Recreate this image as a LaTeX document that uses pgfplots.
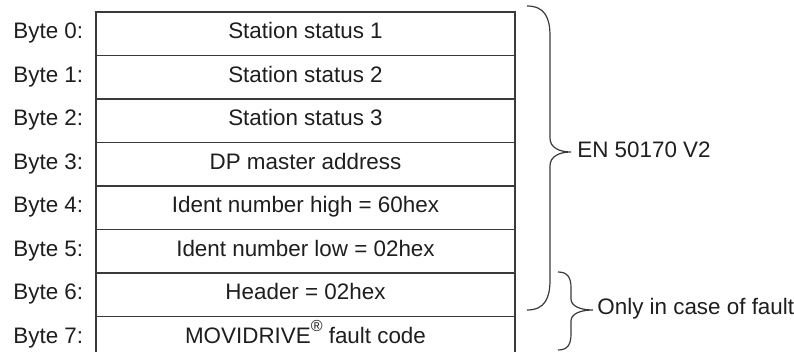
\documentclass[border=0pt]{standalone}
\usepackage{pgfplots}
\pgfplotsset{compat=1.18}
\usepackage{fontspec}
\setmainfont{Liberation Sans}
\definecolor{ink}{HTML}{1E1E1E}
\definecolor{rule}{HTML}{3A3A3A}
\tikzset{lbl/.style={anchor=base west, text=ink, font=\fontsize{11.2}{13}\selectfont, inner sep=0pt},
         cell/.style={anchor=base, text=ink, font=\fontsize{11.2}{13}\selectfont, inner sep=0pt}}
\begin{document}
\begin{tikzpicture}
\begin{axis}[
  scale only axis, width=397pt, height=176pt,
  xmin=0, xmax=794, ymin=0, ymax=352, y dir=reverse,
  axis lines=none, clip=true,
]
% table outline (bottom edge lies below the picture)
\addplot[rule, line width=0.7pt, forget plot] coordinates {(96,360) (96,12) (515,12) (515,360)};
% row separators
\addplot[rule, line width=0.7pt, forget plot, unbounded coords=jump] coordinates {
 (96,55.5) (515,55.5) (96,nan)
 (96,99) (515,99) (96,nan)
 (96,142.5) (515,142.5) (96,nan)
 (96,186) (515,186) (96,nan)
 (96,229.5) (515,229.5) (96,nan)
 (96,273) (515,273) (96,nan)
 (96,316.5) (515,316.5)
};
% byte labels (baselines)
\node[lbl] at (axis cs:13,39) {Byte 0:};
\node[lbl] at (axis cs:13,82.5) {Byte 1:};
\node[lbl] at (axis cs:13,126) {Byte 2:};
\node[lbl] at (axis cs:13,169.5) {Byte 3:};
\node[lbl] at (axis cs:13,213) {Byte 4:};
\node[lbl] at (axis cs:13,256.5) {Byte 5:};
\node[lbl] at (axis cs:13,300) {Byte 6:};
\node[lbl] at (axis cs:13,343.5) {Byte 7:};
% contents
\node[cell] at (axis cs:305.5,39) {Station status 1};
\node[cell] at (axis cs:305.5,82.5) {Station status 2};
\node[cell] at (axis cs:305.5,126) {Station status 3};
\node[cell] at (axis cs:305.5,169.5) {DP master address};
\node[cell] at (axis cs:305.5,213) {Ident number high = 60hex};
\node[cell] at (axis cs:305.5,256.5) {Ident number low = 02hex};
\node[cell] at (axis cs:305.5,300) {Header = 02hex};
\node[cell] at (axis cs:305.5,343.5) {MOVIDRIVE\raisebox{0.55em}{\fontsize{8}{8}\selectfont\textregistered} fault code};
% braces
\draw[rule, line width=0.6pt] (axis cs:527,6) .. controls (axis cs:545,6) and (axis cs:550,18) .. (axis cs:550,36)
  -- (axis cs:550,138) .. controls (axis cs:550,148) and (axis cs:560,152) .. (axis cs:571,152)
  .. controls (axis cs:560,152) and (axis cs:550,156) .. (axis cs:550,166)
  -- (axis cs:550,280) .. controls (axis cs:550,298) and (axis cs:545,310) .. (axis cs:527,310);
\draw[rule, line width=0.6pt] (axis cs:558,272) .. controls (axis cs:568,272) and (axis cs:571,278) .. (axis cs:571,288)
  -- (axis cs:571,299) .. controls (axis cs:571,306) and (axis cs:580,310) .. (axis cs:593,310)
  .. controls (axis cs:580,310) and (axis cs:571,314) .. (axis cs:571,321)
  -- (axis cs:571,334) .. controls (axis cs:571,344) and (axis cs:568,350) .. (axis cs:558,350);
\node[lbl] at (axis cs:577,157.5) {EN 50170 V2};
\node[lbl] at (axis cs:597,315) {Only in case of fault};
\end{axis}
\pgfresetboundingbox
\path[use as bounding box] (current axis.south west) rectangle (current axis.north east);
\end{tikzpicture}
\end{document}
